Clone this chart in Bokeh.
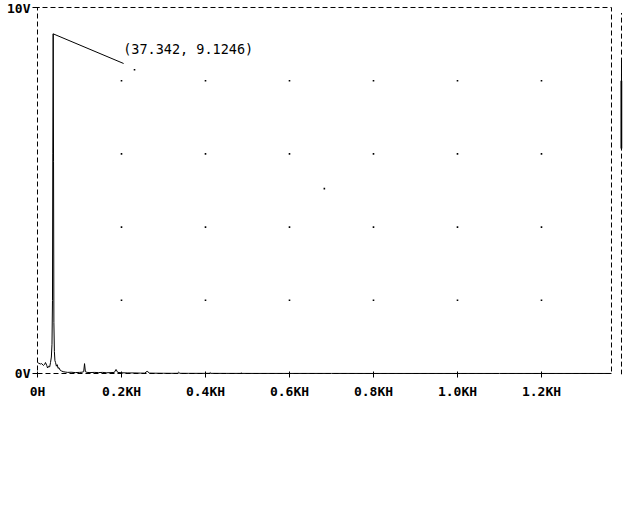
from bokeh.plotting import figure
from bokeh.models import Range1d, FixedTicker
from bokeh.core.properties import value
from bokeh.embed import file_html
from bokeh.resources import INLINE

# ---- data ----
freq_hz = [0, 3, 7, 10, 14, 17, 19, 22, 24, 27, 29, 31, 33, 34.5, 35.7, 36.4,
           37.342, 38.2, 39.0, 40.2, 41.5, 43, 45, 47, 49, 51, 54, 57, 61, 66,
           72, 80, 90, 100, 106, 110, 112, 114, 118, 125, 135, 145, 155, 165,
           175, 183, 187, 191, 200, 215, 230, 245, 255, 261, 267, 280, 300, 320,
           333, 336, 339, 360, 390, 409, 411, 413, 450, 483, 485, 487, 520, 600,
           700, 800, 900, 1000, 1100, 1200, 1300, 1366.7]
mag_v = [0.30, 0.28, 0.26, 0.27, 0.22, 0.25, 0.30, 0.22, 0.15, 0.20, 0.18, 0.30,
         0.45, 0.8, 2.0, 6.0, 9.28, 5.8, 1.4, 0.6, 0.35, 0.30, 0.20, 0.24, 0.14,
         0.16, 0.09, 0.07, 0.05, 0.04, 0.03, 0.035, 0.025, 0.03, 0.035, 0.05,
         0.27, 0.05, 0.03, 0.025, 0.03, 0.025, 0.03, 0.02, 0.025, 0.03, 0.11,
         0.03, 0.02, 0.015, 0.015, 0.01, 0.01, 0.06, 0.01, 0.008, 0.006, 0.005,
         0.005, 0.035, 0.005, 0.004, 0.004, 0.004, 0.025, 0.004, 0.003, 0.003,
         0.015, 0.003, 0.002, 0.002, 0.002, 0.001, 0.001, 0.001, 0.001, 0.001,
         0.001, 0.001]

x_ticks = [0, 200, 400, 600, 800, 1000, 1200]
x_tick_labels = ["0H", "0.2KH", "0.4KH", "0.6KH", "0.8KH", "1.0KH", "1.2KH"]
y_ticks = [0, 10]
y_tick_labels = ["0V", "10V"]
y_grid = [2, 4, 6, 8]

x_max = 1366.7
y_max = 10
cursor_x = 37.342
cursor_y = 9.28
cursor_text = "(37.342, 9.1246)"

W, H = 628, 420
p = figure(width=W, height=H, output_backend="svg", toolbar_location=None,
           x_range=Range1d(-2.381, 1392.9), y_range=Range1d(-0.0273, 10.0273),
           min_border_left=36, min_border_right=6, min_border_top=6,
           min_border_bottom=46)
p.outline_line_color = None
p.background_fill_color = "white"
p.border_fill_color = "white"
p.xgrid.visible = False
p.ygrid.visible = False

font = "DejaVu Sans Mono"
for ax in (p.xaxis[0], p.yaxis[0]):
    ax.axis_line_color = None
    ax.minor_tick_line_color = None
    ax.major_tick_line_color = "black"
    ax.major_label_text_font = font
    ax.major_label_text_font_style = "bold"
    ax.major_label_text_font_size = "13px"
    ax.major_label_text_color = "black"

p.xaxis[0].ticker = FixedTicker(ticks=x_ticks)
p.xaxis[0].major_label_overrides = {t: l for t, l in zip(x_ticks, x_tick_labels)}
p.xaxis[0].major_tick_in = 3
p.xaxis[0].major_tick_out = 3
p.xaxis[0].major_label_standoff = 6

p.yaxis[0].ticker = FixedTicker(ticks=y_ticks)
p.yaxis[0].major_label_overrides = {t: l for t, l in zip(y_ticks, y_tick_labels)}
p.yaxis[0].major_tick_in = 3
p.yaxis[0].major_tick_out = 4
p.yaxis[0].major_label_standoff = 2

# dashed plot box
p.line([0, x_max, x_max, 0, 0], [0, 0, y_max, y_max, 0],
       line_color="black", line_width=1, line_dash="5 3")

# second dashed border at the right with a scroll mark
p.line([1390.5, 1390.5], [-0.03, 9.85], line_color="black", line_width=1,
       line_dash="5 3")
p.line([1390.5, 1390.5], [6.15, 8.55], line_color="black", line_width=1)
p.line([1390.5, 1390.5], [6.15, 8.0], line_color="black", line_width=2)

# grid dots
gx = [x for x in x_ticks[1:] for _ in y_grid]
gy = [y for _ in x_ticks[1:] for y in y_grid]
p.scatter(gx, gy, marker="square", size=1.6, fill_color="black",
          line_color=None)

# trace
p.line(freq_hz, mag_v, line_color="black", line_width=1)

# cursor annotation
p.line([cursor_x, 205], [cursor_y, 8.47], line_color="black", line_width=1)
p.text(x=[204], y=[8.87], text=[cursor_text], text_font=value(font),
       text_font_size="13.5px", text_baseline="middle", text_align="left",
       text_color="black")
p.scatter([231, 683], [8.3, 5.05], marker="square", size=1.6,
          fill_color="black", line_color=None)

open("out.html", "w").write(file_html(p, INLINE))
